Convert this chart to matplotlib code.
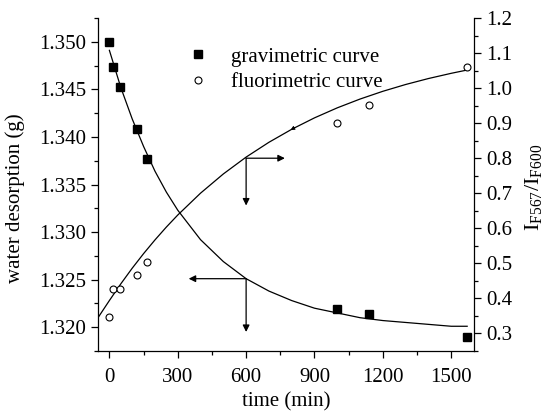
import matplotlib
matplotlib.use("Agg")
import matplotlib.pyplot as plt
from matplotlib.ticker import MultipleLocator, FormatStrFormatter

plt.rcParams['font.family'] = ['Liberation Serif', 'DejaVu Serif']
plt.rcParams['mathtext.fontset'] = 'custom'
plt.rcParams['mathtext.rm'] = 'Liberation Serif'
plt.rcParams['mathtext.it'] = 'Liberation Serif:italic'

# measured data
grav_t = [0, 15, 45, 120, 165, 1000, 1140, 1570]
grav_w = [1.3500, 1.3473, 1.3453, 1.3408, 1.3377, 1.3219, 1.3214, 1.3190]
fluo_t = [0, 15, 45, 120, 165, 1000, 1140, 1570]
fluo_r = [0.346, 0.426, 0.426, 0.467, 0.503, 0.900, 0.951, 1.060]

# fitted curves
gfit_t = [0, 50, 100, 150, 200, 250, 300, 400, 500, 600, 700, 800, 900, 1000,
          1100, 1200, 1300, 1400, 1500, 1570]
gfit_w = [1.3491, 1.3452, 1.3419, 1.3390, 1.3364, 1.3342, 1.3323, 1.3292,
          1.3269, 1.3251, 1.3238, 1.3228, 1.3220, 1.3215, 1.3210, 1.3207,
          1.3205, 1.3203, 1.3201, 1.3201]
ffit_t = [-50, 0, 50, 100, 150, 200, 250, 300, 400, 500, 600, 700, 800, 900,
          1000, 1100, 1200, 1300, 1400, 1500, 1570]
ffit_r = [0.345, 0.394, 0.4415, 0.4861, 0.5278, 0.5669, 0.6036, 0.6379,
          0.7003, 0.7551, 0.8032, 0.8454, 0.8825, 0.9151, 0.9437, 0.9688,
          0.9909, 1.0103, 1.0273, 1.0422, 1.0516]

xticks = [0, 300, 600, 900, 1200, 1500]
left_ticks = [1.320, 1.325, 1.330, 1.335, 1.340, 1.345, 1.350]
right_ticks = [0.3, 0.4, 0.5, 0.6, 0.7, 0.8, 0.9, 1.0, 1.1, 1.2]

FS = 15
fig = plt.figure(figsize=(5.49, 4.12), dpi=100)
ax = fig.add_axes([98/549, 1-351/412, (474-98)/549, (351-18)/412])
ax2 = ax.twinx()

lw = 0.9
ax.plot(gfit_t, gfit_w, color='black', lw=lw)
ax2.plot(ffit_t, ffit_r, color='black', lw=lw)
h1, = ax.plot(grav_t, grav_w, 's', color='black', ms=5.5, ls='none', label='gravimetric curve')
h2, = ax2.plot(fluo_t, fluo_r, 'o', mfc='white', mec='black', mew=0.8, ms=5, ls='none', label='fluorimetric curve')

ax.set_xlim(-50, 1600)
ax.set_ylim(1.3175, 1.3525)
ax2.set_ylim(0.25, 1.2)

ax.set_xticks(xticks)
ax.xaxis.set_minor_locator(MultipleLocator(150))
ax.set_yticks(left_ticks)
ax.yaxis.set_major_formatter(FormatStrFormatter('%.3f'))
ax.yaxis.set_minor_locator(MultipleLocator(0.0025))
ax2.set_yticks(right_ticks)
ax2.yaxis.set_major_formatter(FormatStrFormatter('%.1f'))
ax2.yaxis.set_minor_locator(MultipleLocator(0.05))

for a in (ax, ax2):
    a.tick_params(which='major', direction='out', length=5, width=0.9, labelsize=FS)
    a.tick_params(which='minor', direction='out', length=3, width=0.9)
    for s in a.spines.values():
        s.set_linewidth(0.9)
ax.tick_params(axis='x', which='major', pad=7)
ax.spines['top'].set_visible(False)
ax2.spines['top'].set_visible(False)
ax.spines['right'].set_visible(False)
ax2.spines['left'].set_visible(False)
ax2.spines['bottom'].set_visible(False)

ax.set_xlabel('time (min)', fontsize=FS)
ax.xaxis.set_label_coords(0.5, -0.125)
ax.set_ylabel('water desorption (g)', fontsize=FS)
ax.yaxis.set_label_coords(-0.195, 0.46)
ax2.set_ylabel(r'$\mathregular{I_{F567}/I_{F600}}$', fontsize=FS+1)
ax2.yaxis.set_label_coords(1.13, 0.49)

ap = dict(arrowstyle='-|>', color='black', lw=0.9, mutation_scale=10, shrinkA=0, shrinkB=0)
# fluorimetric curve -> right axis and x-axis
ax2.annotate('', xy=(770, 0.80), xytext=(600, 0.80), arrowprops=ap)
ax2.annotate('', xy=(600, 0.665), xytext=(600, 0.80), arrowprops=ap)
# gravimetric curve -> left axis and x-axis
ax.annotate('', xy=(348, 1.3251), xytext=(600, 1.3251), arrowprops=ap)
ax.annotate('', xy=(600, 1.3195), xytext=(600, 1.3251), arrowprops=ap)
# small arrowhead on the fluorimetric curve
ax2.annotate('', xy=(795, 0.8805), xytext=(815, 0.888),
             arrowprops=dict(arrowstyle='-|>', color='black', lw=0.6, mutation_scale=6, shrinkA=0, shrinkB=0))

fig.legend(handles=[h1, h2], loc='upper left', bbox_to_anchor=(185/549, 1-47/412),
           frameon=False, fontsize=FS, handlelength=1.2, handletextpad=1.0,
           labelspacing=0.3, borderaxespad=0, borderpad=0)

fig.savefig('out.png', dpi=100)
